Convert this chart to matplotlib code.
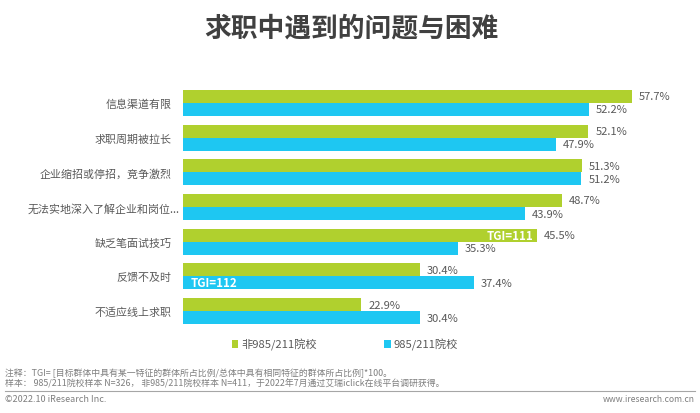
import matplotlib
matplotlib.use("Agg")
import matplotlib.pyplot as plt
from matplotlib.transforms import ScaledTranslation
import numpy as np

plt.rcParams['font.family'] = ['Noto Sans CJK SC', 'DejaVu Sans']

categories = ['信息渠道有限', '求职周期被拉长', '企业缩招或停招，竞争激烈', '无法实地深入了解企业和岗位...',
              '缺乏笔面试技巧', '反馈不及时', '不适应线上求职']
non_985 = [57.7, 52.1, 51.3, 48.7, 45.5, 30.4, 22.9]
is_985 = [52.2, 47.9, 51.2, 43.9, 35.3, 37.4, 30.4]

GREEN = '#B0D02E'
BLUE = '#1EC7F2'
GRAY = '#595959'
NOTE = '#7F7F7F'

W, H = 700, 414
fig = plt.figure(figsize=(W / 100, H / 100), dpi=100)

# axes area in pixels: x from 183 to 700, y from 87 to 329
ax = fig.add_axes([183 / W, 1 - 329 / H, (W - 183) / W, 242 / H])
y = np.arange(len(categories))
h = 13 / 34.67

ax.barh(y - h / 2, non_985, height=h, color=GREEN, label='非985/211院校')
ax.barh(y + h / 2, is_985, height=h, color=BLUE, label='985/211院校')

ax.set_xlim(0, 517 / 7.78)
ax.set_ylim(6.49, -0.49)
ax.set_yticks(y)
ax.set_yticklabels(categories, fontsize=7.9, color=GRAY)
ax.tick_params(axis='y', length=0, pad=8)
ax.set_xticks([])
for s in ax.spines.values():
    s.set_visible(False)

# the long label hangs past the others, its dots run almost up to the bars
long_label = ax.get_yticklabels()[3]
long_label.set_transform(long_label.get_transform() + ScaledTranslation(8 / 100, 0, fig.dpi_scale_trans))

# value labels
for i in y:
    ax.text(non_985[i] + 0.9, i - h / 2, f'{non_985[i]}%', va='center', fontsize=8, color=GRAY)
    ax.text(is_985[i] + 0.9, i + h / 2, f'{is_985[i]}%', va='center', fontsize=8, color=GRAY)

ax.text(45.05, 4 - h / 2, 'TGI=111', va='center', ha='right', fontsize=8.3, color='white', fontweight='bold')
ax.text(1.0, 5 + h / 2, 'TGI=112', va='center', ha='left', fontsize=8.3, color='white', fontweight='bold')

fig.text(351 / W, 1 - 28 / H, '求职中遇到的问题与困难', ha='center', va='center',
         fontsize=19.3, fontweight='bold', color='#404040')

fig.legend(loc='center', bbox_to_anchor=(345 / W, 1 - 345 / H), ncol=2, frameon=False,
           fontsize=8.1, labelcolor=GRAY, handlelength=0.55, handleheight=0.7, handletextpad=0.25,
           columnspacing=6.0)

fig.text(5 / W, 1 - 373 / H, '注释：TGI= [目标群体中具有某一特征的群体所占比例/总体中具有相同特征的群体所占比例]*100。',
         fontsize=6.4, color=NOTE, va='center')
fig.text(5 / W, 1 - 384 / H, '样本： 985/211院校样本 N=326， 非985/211院校样本 N=411，于2022年7月通过艾瑞iclick在线平台调研获得。',
         fontsize=6.4, color=NOTE, va='center')
fig.add_artist(plt.Line2D([5 / W, 695 / W], [1 - 392 / H, 1 - 392 / H], color='#A6A6A6', lw=0.8))
fig.text(5 / W, 1 - 400 / H, '©2022.10 iResearch Inc.', fontsize=6.5, color=NOTE, va='center')
fig.text(695 / W, 1 - 400 / H, 'www.iresearch.com.cn', fontsize=6.2, color=NOTE, va='center', ha='right')

fig.savefig('out.png', dpi=100)
